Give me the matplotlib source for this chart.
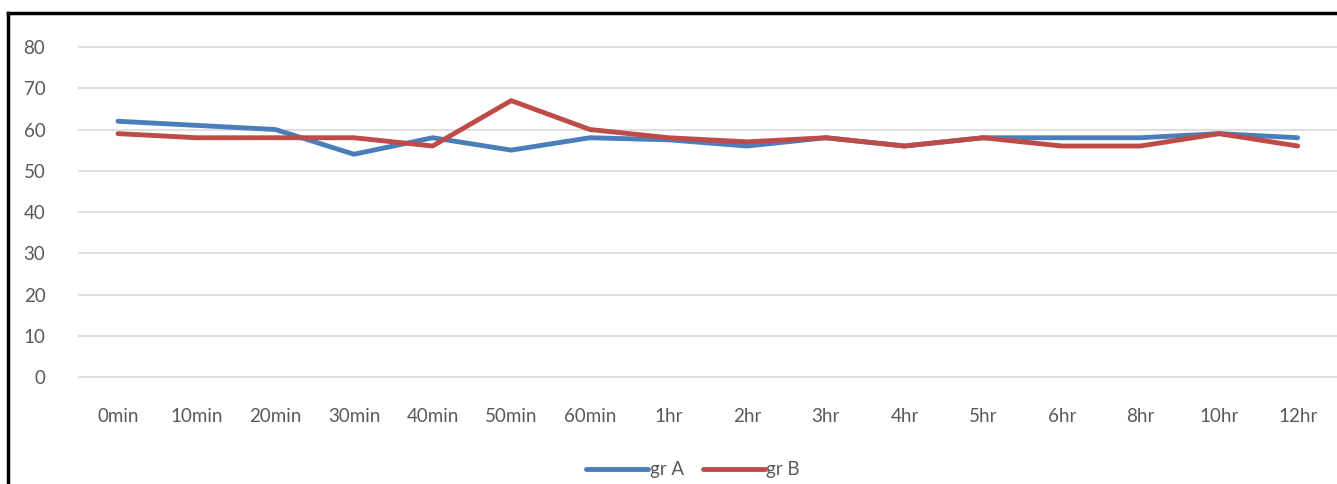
import matplotlib.pyplot as plt
from matplotlib.lines import Line2D

times = ["0min", "10min", "20min", "30min", "40min", "50min", "60min", "1hr",
         "2hr", "3hr", "4hr", "5hr", "6hr", "8hr", "10hr", "12hr"]
gr_a = [62, 61, 60, 54, 58, 55, 58, 57.5, 56, 58, 56, 58, 58, 58, 59, 58]
gr_b = [59, 58, 58, 58, 56, 67, 60, 58, 57, 58, 56, 58, 56, 56, 59, 56]

plt.rcParams['font.family'] = ['Lato', 'DejaVu Sans']

W, H = 1337, 484
fig = plt.figure(figsize=(W / 100, H / 100), dpi=100)
ax = fig.add_axes([78.7 / W, 1 - 377 / H, (1337 - 78.7) / W, (377 - 47) / H])

x = range(len(times))
ax.plot(x, gr_a, color='#4A7EBB', lw=3.5, label='gr A', solid_capstyle='round')
ax.plot(x, gr_b, color='#BE4B48', lw=3.5, label='gr B', solid_capstyle='round')

ax.set_xlim(-0.5, len(times) - 0.5)
ax.set_ylim(0, 80)
ax.set_yticks(range(0, 81, 10))
ax.set_xticks(list(x))
ax.set_xticklabels(times)
ax.grid(axis='y', color='#D9D9D9', lw=1.2)
for g in ax.get_ygridlines():
    g.set_clip_on(False)
ax.set_axisbelow(True)
for s in ax.spines.values():
    s.set_visible(False)
ax.tick_params(length=0, colors='#595959', labelsize=13.5)
ax.tick_params(axis='y', pad=24)
ax.tick_params(axis='x', pad=22)

fig.legend(loc='center', bbox_to_anchor=(693 / W, 1 - 470 / H), ncol=2,
           frameon=False, fontsize=13.5, labelcolor='#595959',
           handlelength=3.3, handletextpad=0.1, columnspacing=1.0)

# chart border (top, left)
fig.add_artist(Line2D([8 / W, 8 / W], [0, 1 - 13 / H], color='black', lw=2.5))
fig.add_artist(Line2D([8 / W, 1], [1 - 13 / H, 1 - 13 / H], color='black', lw=2.5))

fig.savefig('out.png', dpi=100)
